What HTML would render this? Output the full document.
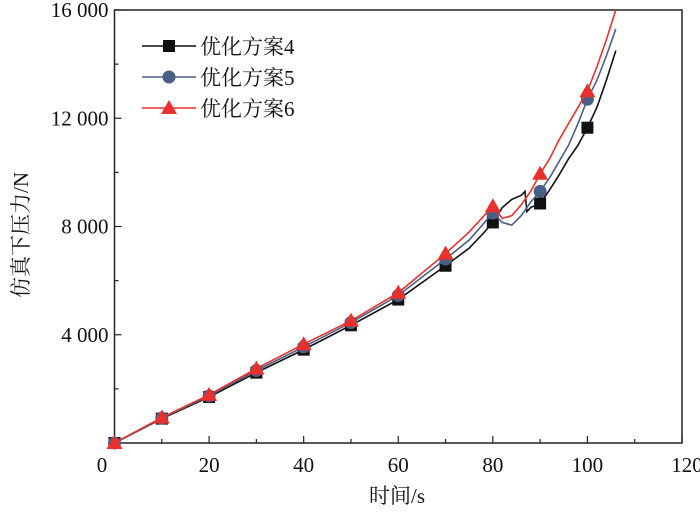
<!DOCTYPE html>
<html><head><meta charset="utf-8"><style>
body{margin:0;background:#fff}
svg text{font-family:"Liberation Serif","Noto Serif CJK SC",serif;fill:#111}
</style></head><body>
<svg id="chart" width="700" height="513" xmlns="http://www.w3.org/2000/svg">
<g id="plot"></g>
</svg>
<script>
const xTicks=[0,20,40,60,80,100,120];
const yTicks=[4000,8000,12000,16000];
const yTickLabels=["4 000","8 000","12 000","16 000"];
const seriesNames=["优化方案4","优化方案5","优化方案6"];
const markerTimes=[0,10,20,30,40,50,60,70,80,90,100];
const s4Markers=[0,900,1700,2600,3450,4350,5300,6550,8150,8850,11650];
const s5Markers=[0,920,1740,2680,3550,4450,5450,6800,8500,9300,12700];
const s6Markers=[0,940,1780,2750,3650,4520,5550,7000,8750,9950,13000];
const s4Times=[0,10,20,30,40,50,60,70,75,78,80,82,84,86,86.8,87.2,88,90,92,94,96,98,100,102,104,106];
const s4Values=[0,900,1700,2600,3450,4350,5300,6550,7200,7750,8150,8700,9000,9150,9300,8550,8700,8850,9350,9900,10500,11000,11650,12400,13400,14500];
const s5Times=[0,10,20,30,40,50,60,70,75,80,82,84,86,88,90,92,94,96,98,100,102,104,106];
const s5Values=[0,920,1740,2680,3550,4450,5450,6800,7500,8500,8150,8050,8400,8900,9300,9800,10400,11000,11800,12700,13400,14300,15300];
const s6Times=[0,10,20,30,40,50,60,70,75,80,82,84,86,88,90,92,94,96,98,100,102,104,106];
const s6Values=[0,940,1780,2750,3650,4520,5550,7000,7800,8750,8300,8400,8800,9300,9950,10500,11200,11800,12400,13000,13900,14900,16000];
const colors=["#111","#4a5f86","#e8312c"];

const L=114.5,R=682,T=10,B=443;
const xS=v=>L+(v/120)*(R-L);
const yS=v=>B-(v/16000)*(B-T);
const NS="http://www.w3.org/2000/svg";
const g=document.getElementById('plot');
function mk(tag,attrs,parent){const e=document.createElementNS(NS,tag);for(const k in attrs)e.setAttribute(k,attrs[k]);(parent||g).appendChild(e);return e;}

const frame=mk('rect',{x:L,y:T,width:R-L,height:B-T,fill:'none',stroke:'#222','stroke-width':1.5});



for(let v=0;v<=120;v+=10){
  const t=mk('line',{x1:xS(v),x2:xS(v),y1:B,y2:B-(v%20===0?7:4),stroke:'#222','stroke-width':1.2});
  
  
}
xTicks.forEach(v=>{
  const t=mk('text',{x:v===0?102:(v===120?687:xS(v)),y:472,'text-anchor':'middle','font-size':21});
  t.textContent=v;
  
  
});
for(let v=2000;v<=16000;v+=2000){
  const t=mk('line',{x1:L,x2:L+(v%4000===0?7:4),y1:yS(v),y2:yS(v),stroke:'#222','stroke-width':1.2});
  
  
}
yTicks.forEach((v,i)=>{
  const t=mk('text',{x:L-6,y:yS(v)+7,'text-anchor':'end','font-size':21});
  t.textContent=yTickLabels[i];
  
  
});
const xl=mk('text',{x:397,y:503,'text-anchor':'middle','font-size':21});
xl.textContent='时间/s';


const yl=mk('text',{x:0,y:0,'text-anchor':'middle','font-size':21,transform:'translate(28,235) rotate(-90)'});
yl.textContent='仿真下压力/N';



function marker(type,cx,cy,color,parent){
  let e;
  if(type===0)e=mk('rect',{x:cx-6,y:cy-6,width:12,height:12,fill:color},parent);
  else if(type===1)e=mk('circle',{cx:cx,cy:cy,r:6.5,fill:color},parent);
  else e=mk('polygon',{points:`${cx},${cy-8} ${cx-8},${cy+6} ${cx+8},${cy+6}`,fill:color},parent);
  return e;
}
const lines=[[s4Times,s4Values,s4Markers],[s5Times,s5Values,s5Markers],[s6Times,s6Values,s6Markers]];
lines.forEach((s,i)=>{
  const grp=mk('g',{});
  
  
  const p=mk('polyline',{points:s[0].map((t,j)=>xS(t)+','+yS(s[1][j])).join(' '),fill:'none',stroke:colors[i],'stroke-width':1.6},grp);
  
  
  markerTimes.forEach((t,j)=>{
    const m=marker(i,xS(t),yS(s[2][j]),colors[i],grp);
    
    
  });
});
seriesNames.forEach((n,i)=>{
  const y=46+i*31;
  const lg=mk('g',{});
  
  
  mk('line',{x1:142,x2:196,y1:y,y2:y,stroke:colors[i],'stroke-width':1.6},lg);
  marker(i,169,y,colors[i],lg);
  const t=mk('text',{x:200,y:y+8,'font-size':21},lg);
  t.textContent=n;
});
</script>
</body></html>
